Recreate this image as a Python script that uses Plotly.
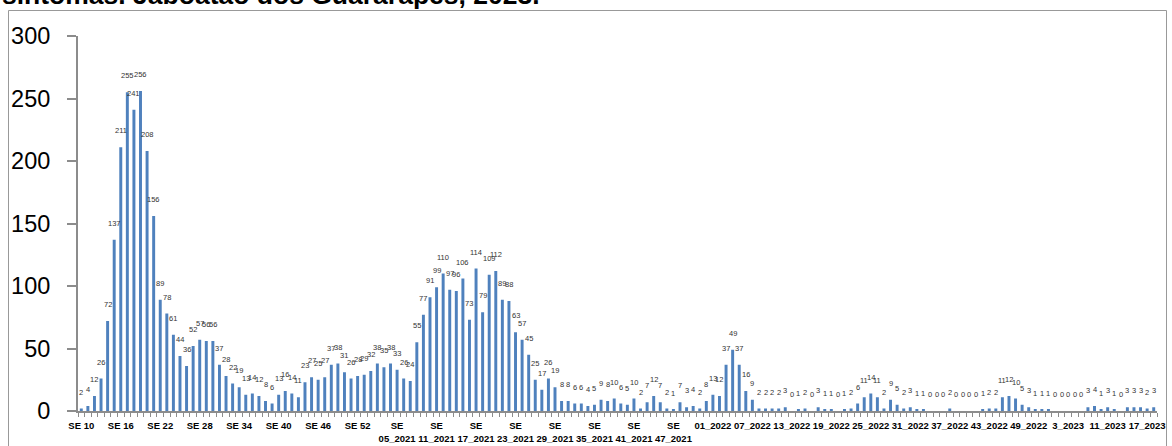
import plotly.graph_objects as go

# ---- data ----
weeks_2020 = [f"SE {w}" for w in range(10, 54)]
weeks_2021 = [f"{w:02d}_2021" for w in range(1, 53)]
weeks_2022 = [f"{w:02d}_2022" for w in range(1, 53)]
weeks_2023 = [f"{w}_2023" for w in [1, 2, 3, 4, 5, 6, 7, 8, 11, 12, 13, 14, 15, 16, 17, 18]]
categories = weeks_2020 + weeks_2021 + weeks_2022 + weeks_2023

values_2020 = [2, 4, 12, 26, 72, 137, 211, 255, 241, 256, 208, 156, 89, 78, 61, 44, 36, 52, 57, 56,
               56, 37, 28, 22, 19, 13, 14, 12, 8, 6, 13, 16, 14, 11, 23, 27, 25, 27, 37, 38,
               31, 26, 28, 29]
values_2021 = [32, 38, 35, 38, 33, 26, 24, 55, 77, 91, 99, 110, 97, 96, 106, 73, 114, 79, 109, 112,
               89, 88, 63, 57, 45, 25, 17, 26, 19, 8, 8, 6, 6, 4, 5, 9, 8, 10, 6, 5,
               10, 2, 7, 12, 7, 2, 1, 7, 3, 4, 2, 8]
values_2022 = [13, 12, 37, 49, 37, 16, 9, 2, 2, 2, 2, 3, 0, 1, 2, 0, 3, 1, 1, 0,
               1, 2, 6, 11, 14, 11, 2, 9, 5, 2, 3, 1, 1, 0, 0, 0, 2, 0, 0, 0,
               0, 1, 2, 2, 11, 12, 10, 5, 3, 1, 1, 1]
values_2023 = [0, 0, 0, 0, 0, 3, 4, 1, 3, 1, 0, 3, 3, 3, 2, 3]
values = values_2020 + values_2021 + values_2022 + values_2023

tick_labels = ["SE 10", "SE 16", "SE 22", "SE 28", "SE 34", "SE 40", "SE 46", "SE 52",
               "SE<br>05_2021", "SE<br>11_2021", "SE<br>17_2021", "SE<br>23_2021",
               "SE<br>29_2021", "SE<br>35_2021", "SE<br>41_2021", "SE<br>47_2021",
               "01_2022", "07_2022", "13_2022", "19_2022", "25_2022", "31_2022",
               "37_2022", "43_2022", "49_2022", "3_2023", "11_2023", "17_2023"]
tick_every = 6

title_text = "sintomas. Jaboatão dos Guararapes, 2023."

assert len(categories) == len(values)

# ---- figure ----
W, H = 1172, 446
ML, MR, MT, MB = 78, 15, 36, 35
FONT = "Liberation Sans, Arial, sans-serif"

x_idx = list(range(len(values)))

fig = go.Figure()
fig.add_trace(go.Bar(
    x=x_idx, y=values, customdata=categories,
    marker=dict(color="#4F81BD", line=dict(width=0)),
    width=0.45,
    hovertemplate="%{customdata}: %{y}<extra></extra>",
))

annotations = []
for i, v in zip(x_idx, values):
    annotations.append(dict(
        x=i, y=v, xref="x", yref="y", text=str(v), showarrow=False,
        yanchor="middle", xanchor="center", yshift=16.5,
        font=dict(family=FONT, size=7.5, color="#333333"),
    ))

plot_h = H - MT - MB
plot_w = W - ML - MR
# title (only its last line is visible, cut by the top edge)
annotations.append(dict(
    x=(0 - ML) / plot_w, y=(H - MB + 4.5) / plot_h, xref="paper", yref="paper",
    text="<b>" + title_text + "</b>", showarrow=False, xanchor="left", yanchor="middle",
    font=dict(family=FONT, size=26.5, color="#000000"),
))

fig.update_layout(
    width=W, height=H,
    margin=dict(l=ML, r=MR, t=MT, b=MB, pad=0, autoexpand=False),
    paper_bgcolor="white", plot_bgcolor="white",
    showlegend=False,
    annotations=annotations,
    shapes=[dict(
        type="rect", xref="paper", yref="paper",
        x0=(8.5 - ML) / plot_w, x1=(1166.5 - ML) / plot_w,
        y0=(H - MB - 460) / plot_h, y1=(H - MB - 10.5) / plot_h,
        line=dict(color="#999999", width=1), fillcolor="rgba(0,0,0,0)", layer="above",
    )],
)

fig.update_xaxes(
    range=[-0.5, len(values) - 0.5],
    tickmode="array",
    tickvals=x_idx[::tick_every],
    ticktext=tick_labels,
    tickangle=0,
    automargin=False,
    ticks="",
    tickfont=dict(family=FONT, size=9.5, color="#000000", weight="bold"),
    ticklabelstandoff=5,
    showline=True, linecolor="#8C8C8C", linewidth=2,
    showgrid=False, zeroline=False,
    minor=dict(tickmode="linear", tick0=-0.5, dtick=1, ticks="outside",
               ticklen=4, tickcolor="#8C8C8C", tickwidth=1, showgrid=False),
)
fig.update_yaxes(
    range=[0, 300], tickmode="linear", tick0=0, dtick=50,
    automargin=False,
    ticks="outside", ticklen=9, tickcolor="#8C8C8C", tickwidth=1.5,
    tickfont=dict(family=FONT, size=23.5, color="#000000"),
    ticklabelstandoff=12,
    showline=True, linecolor="#8C8C8C", linewidth=2,
    showgrid=False, zeroline=False,
)

fig.write_html(
    "out.html",
    config={"displayModeBar": False},
    post_script="document.body.style.margin='0';document.documentElement.style.overflow='hidden';",
)
